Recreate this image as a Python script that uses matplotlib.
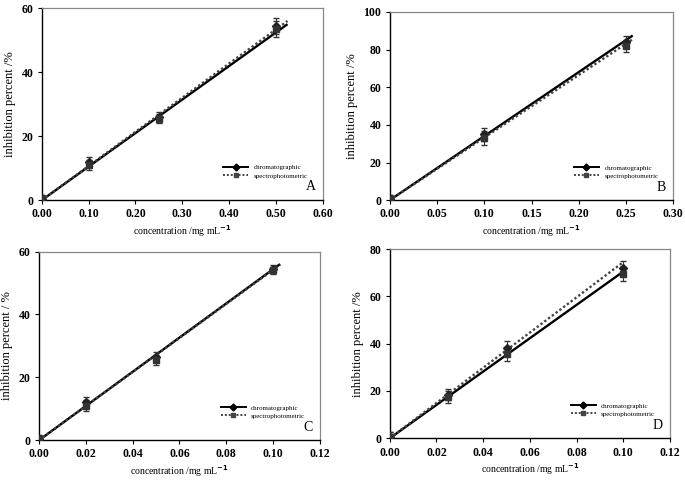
import numpy as np
import matplotlib
matplotlib.use("Agg")
import matplotlib.pyplot as plt

plt.rcParams['font.family'] = ['Liberation Serif', 'DejaVu Serif']
plt.rcParams['font.weight'] = 'bold'

# Panel data: concentration (mg/mL) and inhibition (%)
a_x = [0.0, 0.10, 0.25, 0.50]
a_chrom = [0.5, 12.0, 26.0, 54.5]
a_spec = [0.5, 11.0, 25.5, 53.5]
a_err = [1.0, 1.5, 1.5, 2.5]
a_fit_x = [0.0, 0.525]
a_fit_chrom = [0.0, 55.0]
a_fit_spec = [0.0, 56.0]

b_x = [0.0, 0.10, 0.25]
b_chrom = [0.5, 35.0, 84.0]
b_spec = [0.5, 33.0, 82.0]
b_err = [2.0, 3.5, 3.0]
b_fit_x = [0.0, 0.257]
b_fit_chrom = [0.0, 87.5]
b_fit_spec = [0.0, 85.5]

c_x = [0.0, 0.02, 0.05, 0.10]
c_chrom = [0.5, 12.0, 26.5, 54.5]
c_spec = [0.5, 11.0, 25.5, 54.0]
c_err = [1.0, 1.8, 1.5, 1.2]
c_fit_x = [0.0, 0.103]
c_fit_chrom = [0.0, 56.0]
c_fit_spec = [0.0, 55.8]

d_x = [0.0, 0.025, 0.05, 0.10]
d_chrom = [0.5, 18.5, 38.0, 72.0]
d_spec = [0.5, 17.5, 35.5, 69.5]
d_err = [2.0, 2.5, 3.0, 3.0]
d_fit_x = [0.0, 0.10]
d_fit_chrom = [0.0, 70.5]
d_fit_spec = [0.0, 74.5]

panels = [
    dict(pos=[0.061, 0.583, 0.410, 0.400], x=a_x, chrom=a_chrom, spec=a_spec, err=a_err,
         fx=a_fit_x, fc=a_fit_chrom, fs=a_fit_spec, xlim=(0, 0.6), xticks=np.arange(0, 0.61, 0.1),
         ylim=(0, 60), yticks=[0, 20, 40, 60], ylabel='inhibition percent /%', tag='A'),
    dict(pos=[0.569, 0.583, 0.414, 0.392], x=b_x, chrom=b_chrom, spec=b_spec, err=b_err,
         fx=b_fit_x, fc=b_fit_chrom, fs=b_fit_spec, xlim=(0, 0.3), xticks=np.arange(0, 0.31, 0.05),
         ylim=(0, 100), yticks=[0, 20, 40, 60, 80, 100], ylabel='inhibition percent /%', tag='B'),
    dict(pos=[0.057, 0.083, 0.410, 0.393], x=c_x, chrom=c_chrom, spec=c_spec, err=c_err,
         fx=c_fit_x, fc=c_fit_chrom, fs=c_fit_spec, xlim=(0, 0.12), xticks=np.arange(0, 0.121, 0.02),
         ylim=(0, 60), yticks=[0, 20, 40, 60], ylabel='inhibition percent / %', tag='C'),
    dict(pos=[0.569, 0.087, 0.409, 0.394], x=d_x, chrom=d_chrom, spec=d_spec, err=d_err,
         fx=d_fit_x, fc=d_fit_chrom, fs=d_fit_spec, xlim=(0, 0.12), xticks=np.arange(0, 0.121, 0.02),
         ylim=(0, 80), yticks=[0, 20, 40, 60, 80], ylabel='inhibition percent /%', tag='D'),
]

fig = plt.figure(figsize=(6.85, 4.8), dpi=100)

for p in panels:
    ax = fig.add_axes(p['pos'])
    # regression lines
    ax.plot(p['fx'], p['fc'], color='black', lw=1.7, solid_capstyle='butt')
    ax.plot(p['fx'], p['fs'], color='#444444', lw=1.7, ls=(0, (1, 1)))
    # data points with error bars
    ax.errorbar(p['x'], p['chrom'], yerr=p['err'], fmt='D', ms=4, color='#222222',
                ecolor='#333333', elinewidth=0.8, capsize=2, zorder=3)
    ax.errorbar(p['x'], p['spec'], yerr=p['err'], fmt='s', ms=4.5, color='#333333',
                ecolor='#333333', elinewidth=0.8, capsize=2, zorder=3)
    # legend proxies
    h1, = ax.plot([], [], color='black', lw=1.4, marker='D', ms=3.5)
    h2, = ax.plot([], [], color='#444444', lw=1.4, ls=(0, (1, 1)), marker='s', ms=3.5)
    ax.legend([h1, h2], ['chromatographic', 'spectrophotometric'], loc='lower right',
              bbox_to_anchor=(0.97, 0.08), frameon=False, handlelength=3.6,
              prop={'size': 5, 'weight': 'normal'}, labelspacing=0.35)
    ax.text(0.975, 0.035, p['tag'], transform=ax.transAxes, ha='right', va='bottom',
            fontsize=10, fontweight='normal')

    ax.set_xlim(*p['xlim'])
    ax.set_ylim(*p['ylim'])
    ax.set_xticks(p['xticks'])
    ax.set_xticklabels(['%.2f' % t for t in p['xticks']])
    ax.set_yticks(p['yticks'])
    ax.tick_params(direction='out', length=3, width=0.8, labelsize=8.5, pad=3)
    ax.set_xlabel('concentration /mg mL$^{\\mathbf{-1}}$', fontsize=7, labelpad=2)
    ax.set_ylabel(p['ylabel'], fontsize=9, labelpad=4)
    for s in ['left', 'bottom']:
        ax.spines[s].set_color('black')
        ax.spines[s].set_linewidth(1.0)
    for s in ['top', 'right']:
        ax.spines[s].set_color('#888888')
        ax.spines[s].set_linewidth(0.9)

fig.savefig('out.png', dpi=100)
